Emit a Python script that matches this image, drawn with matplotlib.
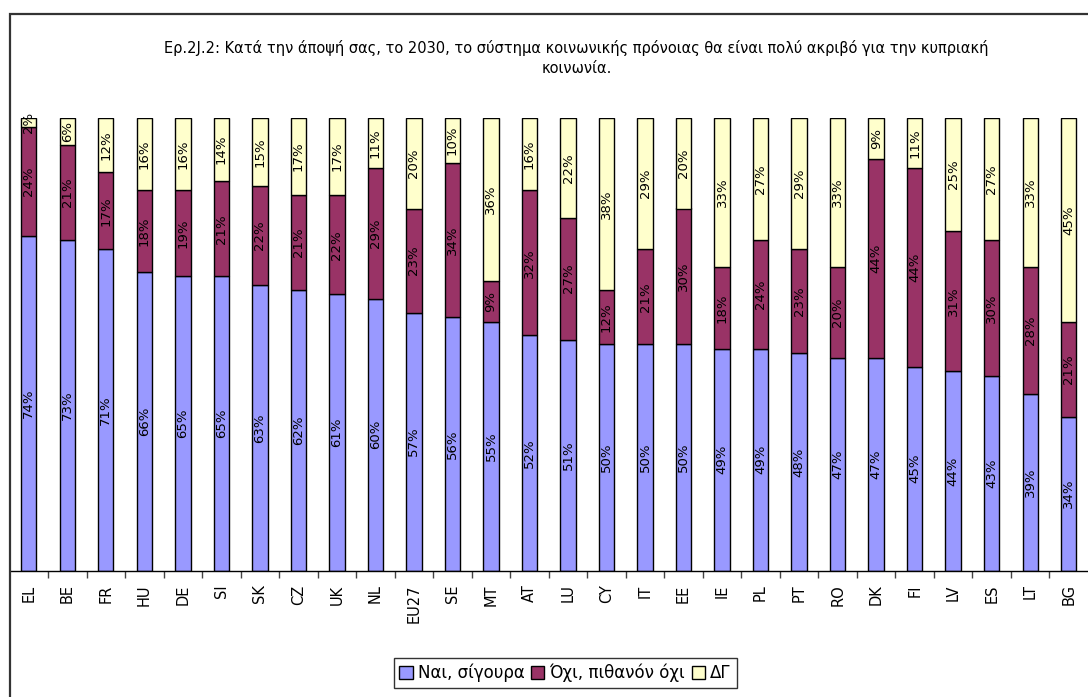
import numpy as np
import matplotlib.pyplot as plt
from matplotlib.patches import Rectangle

countries = ["EL", "BE", "FR", "HU", "DE", "SI", "SK", "CZ", "UK", "NL", "EU27", "SE", "MT", "AT",
             "LU", "CY", "IT", "EE", "IE", "PL", "PT", "RO", "DK", "FI", "LV", "ES", "LT", "BG"]
yes = [74, 73, 71, 66, 65, 65, 63, 62, 61, 60, 57, 56, 55, 52,
       51, 50, 50, 50, 49, 49, 48, 47, 47, 45, 44, 43, 39, 34]
no = [24, 21, 17, 18, 19, 21, 22, 21, 22, 29, 23, 34, 9, 32,
      27, 12, 21, 30, 18, 24, 23, 20, 44, 44, 31, 30, 28, 21]
dk = [2, 6, 12, 16, 16, 14, 15, 17, 17, 11, 20, 10, 36, 16,
      22, 38, 29, 20, 33, 27, 29, 33, 9, 11, 25, 27, 33, 45]

series = [("Ναι, σίγουρα", yes, "#9999FF"),
          ("Όχι, πιθανόν όχι", no, "#993366"),
          ("ΔΓ", dk, "#FFFFCC")]

plt.rcParams['font.family'] = ['DejaVu Sans']
W, H = 1088, 697
fig = plt.figure(figsize=(W / 100, H / 100), dpi=100)

# chart frame (cut by image edges on the right and bottom)
fig.patches.append(Rectangle((9.5 / W, -0.05), 1.2, 1 - 14 / H + 0.05, transform=fig.transFigure,
                             fill=False, edgecolor="#333333", linewidth=1.6))

ax = fig.add_axes([9.5 / W, 1 - 570.5 / H, 1 - 9.5 / W, (570.5 - 118) / H])
x = np.arange(len(countries))
bottom = np.zeros(len(countries))
for name, vals, col in series:
    vals = np.array(vals, dtype=float)
    ax.bar(x, vals, 0.4, bottom=bottom, color=col, edgecolor="black", linewidth=1.0, label=name)
    for xi, b, v in zip(x, bottom, vals):
        ax.text(xi, b + v / 2, f"{int(v)}%", rotation=90, ha="center", va="center",
                fontsize=9.5, color="black")
    bottom += vals

ax.set_xlim(-0.5, len(countries) - 0.5)
ax.set_ylim(0, 100)
for s in ["left", "top", "right"]:
    ax.spines[s].set_visible(False)
ax.spines["bottom"].set_linewidth(1.0)
ax.set_yticks([])
ax.set_xticks(x)
ax.set_xticklabels(countries, rotation=90, fontsize=10.5)
ax.tick_params(axis="x", which="major", length=0, pad=10)
ax.set_xticks(x[:-1] + 0.5, minor=True)
ax.tick_params(axis="x", which="minor", length=5, width=1.0, color="#444444", direction="out")

fig.text(0.53, 1 - 58 / H, "Ερ.2J.2: Κατά την άποψή σας, το 2030, το σύστημα κοινωνικής πρόνοιας θα είναι πολύ ακριβό για την κυπριακή\nκοινωνία.",
         ha="center", va="center", fontsize=10.5, linespacing=1.45)

leg = fig.legend(loc="center", bbox_to_anchor=(565 / W, 1 - 673 / H), ncol=3, fontsize=12,
                 frameon=True, fancybox=False, edgecolor="black", handlelength=0.8,
                 handleheight=0.8, handletextpad=0.3, columnspacing=0.4, borderpad=0.35)
leg.get_frame().set_linewidth(1.0)

fig.savefig("out.png", dpi=100)
